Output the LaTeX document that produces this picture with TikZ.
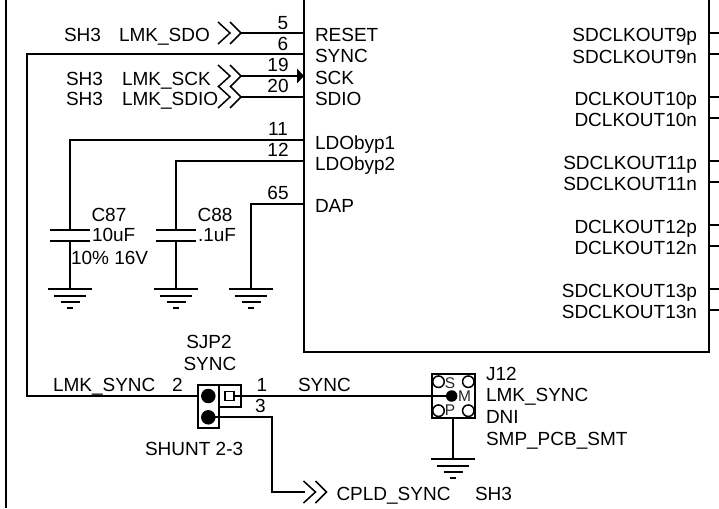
\documentclass[tikz,border=0pt]{standalone}
\usepackage{fontspec}
\setmainfont{Liberation Sans}
\tikzset{
  x=1pt,y=-1pt,
  wire/.style={line width=2pt,line cap=butt,line join=miter,black},
  thin wire/.style={line width=1.5pt,black},
  txt/.style={inner sep=0pt,outer sep=0pt,font=\fontsize{19}{20}\selectfont,text=black},
  lt/.style={txt,anchor=base west},
  rt/.style={txt,anchor=base east},
  ct/.style={txt,anchor=base},
  mini/.style={inner sep=0pt,outer sep=0pt,anchor=base,font=\fontsize{15.5}{16}\selectfont,text=black!85},
  chev/.pic={
    \draw[thin wire] (0,-11)--(12,0)--(0,11);
    \draw[thin wire] (12,-11)--(23,0)--(12,11);
    \coordinate (-tail) at (1,0);
    \coordinate (-tip) at (23,0);
  },
  gnd/.pic={
    \coordinate (-top) at (0,0);
    \draw[wire] (-22,0)--(22,0);
    \draw[wire] (-16,6.5)--(16,6.5);
    \draw[wire] (-9.5,13)--(9.5,13);
    \draw[wire] (-3,19)--(3,19);
  },
  cap/.pic={
    \coordinate (-a) at (0,0);
    \coordinate (-b) at (0,11);
    \draw[wire] (-20,0)--(20,0);
    \draw[wire] (-20,11)--(20,11);
  }
}
\begin{document}
\begin{tikzpicture}
\useasboundingbox (0,0) rectangle (719,508);
\clip (0,0) rectangle (719,508);
% page border and chip outline
\coordinate (bt) at (6,0); \coordinate (bb) at (6,508);
\draw[line width=2pt,black] (bt) -- (bb);
\coordinate (ctl) at (304,0); \coordinate (cbl) at (304,352);
\coordinate (cbr) at (709,352); \coordinate (ctr) at (709,0);
\draw[wire] (ctl) -- (cbl) -- (cbr) -- (ctr);
% left pins
\coordinate (p5) at (304,33);
\coordinate (p6) at (304,54);
\coordinate (p19) at (304,76);
\coordinate (p20) at (304,97);
\coordinate (p11) at (304,140);
\coordinate (p12) at (304,161);
\coordinate (p65) at (304,204);
\pic (csdo) at (218,33) {chev};
\pic (csck) at (218,76) {chev};
\pic (csdio) at (218,97) {chev};
\draw[wire] (csdo-tip) -- (p5);
\draw[wire] (csck-tip) -- (p19);
\draw[wire] (csdio-tip) -- (p20);
\fill[black] (p19) -- (297,68.5) -- (297,83.5) -- cycle;
% right pins
\foreach \n/\y in {a/33,b/54,c/97,d/118,e/161,f/182,g/225,h/246,i/289,j/310}{
  \coordinate (r\n) at (709,\y);
  \coordinate (s\n) at (719,\y);
  \draw[wire] (r\n) -- (s\n);
}
% chip pin labels
\node[lt] (tReset) at (315,42) {RESET};
\node[lt] (tSync) at (315,63) {SYNC};
\node[lt] (tSck) at (315,84.5) {SCK};
\node[lt] (tSdio) at (315,106) {SDIO};
\node[lt] (tL1) at (315,149) {LDObyp1};
\node[lt] (tL2) at (315,170) {LDObyp2};
\node[lt] (tDap) at (315,212.5) {DAP};
\node[rt] (o1) at (697,41.7) {SDCLKOUT9p};
\node[rt] (o2) at (697,63.3) {SDCLKOUT9n};
\node[rt] (o3) at (697,105.3) {DCLKOUT10p};
\node[rt] (o4) at (697,126.7) {DCLKOUT10n};
\node[rt] (o5) at (697,169) {SDCLKOUT11p};
\node[rt] (o6) at (697,190.5) {SDCLKOUT11n};
\node[rt] (o7) at (697,233.5) {DCLKOUT12p};
\node[rt] (o8) at (697,254.5) {DCLKOUT12n};
\node[rt] (o9) at (697,297.3) {SDCLKOUT13p};
\node[rt] (o10) at (697,318.7) {SDCLKOUT13n};
% pin numbers
\node[ct] (n5) at (283,29.3) {5};
\node[ct] (n6) at (283,50.3) {6};
\node[ct] (n19) at (278,71.7) {19};
\node[ct] (n20) at (278,92.7) {20};
\node[ct] (n11) at (278,135.7) {11};
\node[ct] (n12) at (278,156.7) {12};
\node[ct] (n65) at (278,199.3) {65};
% off-sheet labels
\node[lt] (s1) at (64,41.7) {SH3};
\node[lt] (l1) at (119,41.7) {LMK\_SDO};
\node[lt] (s2) at (66,85) {SH3};
\node[lt] (l2) at (122,85) {LMK\_SCK};
\node[lt] (s3) at (66,106) {SH3};
\node[lt] (l3) at (122,106) {LMK\_SDIO};
% capacitors and grounds
\pic (c87) at (70,230) {cap};
\pic (c88) at (176,230) {cap};
\pic (g1) at (70,289) {gnd};
\pic (g2) at (176,289) {gnd};
\pic (g3) at (251,289) {gnd};
\draw[wire] (p11) -| (c87-a);
\draw[wire] (c87-b) -- (g1-top);
\draw[wire] (p12) -| (c88-a);
\draw[wire] (c88-b) -- (g2-top);
\draw[wire] (p65) -| (g3-top);
\node[lt] (t87) at (91.5,221.7) {C87};
\node[lt] (v87) at (92,241.7) {10uF};
\node[lt] (r87) at (71,264) {10\% 16V};
\node[lt] (t88) at (197.7,221.7) {C88};
\node[lt] (v88) at (198,241.7) {.1uF};
% jumper
\coordinate (jl) at (197.5,396);
\draw[wire] (198,385) rectangle (219,428);
\draw[wire] (219,385) rectangle (241,407);
\node[draw,line width=1.6pt,inner sep=0pt,minimum size=9pt,outer sep=0pt] (jbox) at (229.7,396) {};
\node[circle,fill=black,inner sep=0pt,minimum size=14.5pt] (d2) at (208.3,396) {};
\node[circle,fill=black,inner sep=0pt,minimum size=14.5pt] (d3) at (208.3,417.3) {};
\draw[wire] (p6) -| (27,396) -- (jl);
\node[ct] (tsj) at (209,348) {SJP2};
\node[lt] (tsy) at (183.5,370) {SYNC};
\node[lt] (tls) at (53,391.7) {LMK\_SYNC};
\node[lt] (t2) at (172,391.7) {2};
\node[lt] (t1) at (256.6,391.7) {1};
\node[lt] (t3) at (255,412.7) {3};
\node[lt] (tsy2) at (298,391.7) {SYNC};
\node[lt] (tsh) at (145,455) {SHUNT 2-3};
% CPLD
\pic (ccpld) at (303.5,492) {chev};
\draw[wire] (d3.center) -- (272.3,417.3) -- (272.3,492) -- (ccpld-tail);
\node[lt] (tc) at (336.5,500) {CPLD\_SYNC};
\node[lt] (ts3) at (475,500) {SH3};
% J12
\draw[wire] (432,374) rectangle (475,418);
\foreach \n/\cx/\cy in {q1/438.5/381.7,q2/468.3/381.7,q3/438.5/410.7,q4/468.3/410.7}{
  \node[circle,draw,line width=1.5pt,fill=white,inner sep=0pt,minimum size=11.5pt] (\n) at (\cx,\cy) {};
}
\node[circle,fill=black,inner sep=0pt,minimum size=11.5pt] (jm) at (451.7,396) {};
\node[mini] (ms) at (450,388) {S};
\node[mini] (mm) at (464.5,401) {M};
\node[mini] (mp) at (450,415.5) {P};
\draw[wire] (jbox.east |- jm) -- (jm.center);
\coordinate (jb) at (453.3,418);
\pic (g4) at (453.3,459) {gnd};
\draw[wire] (jb) -- (g4-top);
\node[lt] (j1) at (486,380.7) {J12};
\node[lt] (j2) at (486,401.7) {LMK\_SYNC};
\node[lt] (j3) at (486,423.3) {DNI};
\node[lt] (j4) at (486,445) {SMP\_PCB\_SMT};
\end{tikzpicture}
\end{document}
